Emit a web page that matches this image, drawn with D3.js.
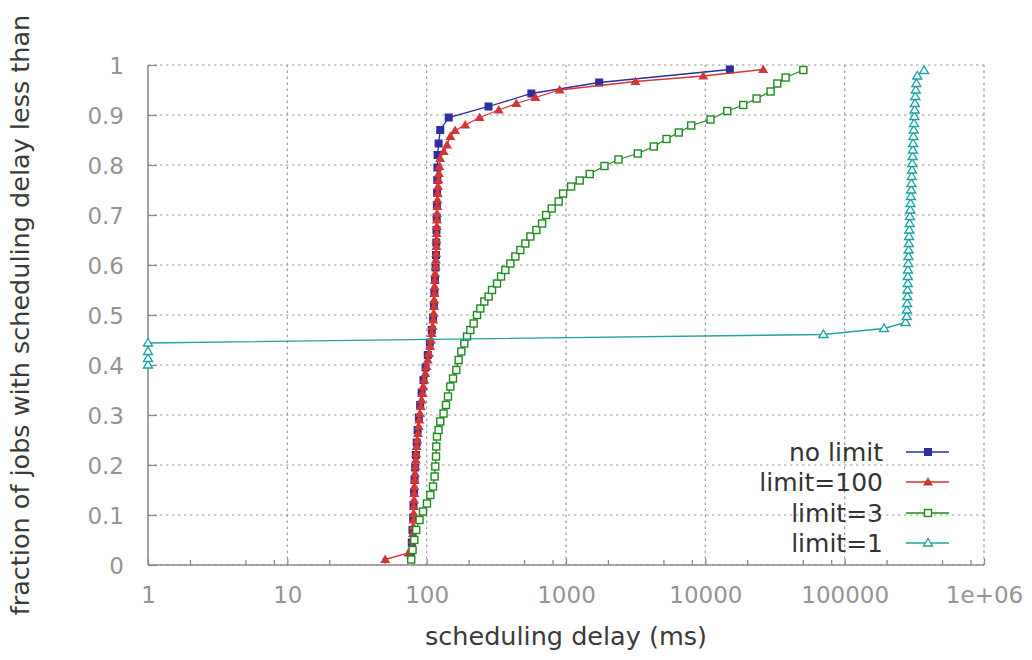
<!DOCTYPE html>
<html><head><meta charset="utf-8">
<script src="https://cdn.jsdelivr.net/npm/d3@7"></script>
<style>body{margin:0;background:#fff} svg{display:block} text{font-family:"DejaVu Sans",sans-serif}</style>
</head><body><svg id="c" width="1032" height="660"></svg>
<script>
// ---- axis ticks ----
const xTickValues = [1, 10, 100, 1000, 10000, 100000, 1000000];
const xTickLabels = ["1", "10", "100", "1000", "10000", "100000", "1e+06"];
const xMinorTickValues = [2, 5, 8, 20, 50, 80, 200, 500, 800, 2000, 5000, 8000, 20000, 50000, 80000, 200000, 500000, 800000];
const yTickValues = [0, 0.1, 0.2, 0.3, 0.4, 0.5, 0.6, 0.7, 0.8, 0.9, 1];
const yTickLabels = ["0", "0.1", "0.2", "0.3", "0.4", "0.5", "0.6", "0.7", "0.8", "0.9", "1"];

// ---- series names ----
const seriesNames = ["no limit", "limit=100", "limit=3", "limit=1"];

// ---- no limit ----
const noLimitDelay = [76.9, 78.2, 79.1, 79.9, 80.5, 81.2, 81.9, 82.7, 83.6, 84.8, 86.1, 87.9, 89.8, 92.0, 94.8, 98.2, 101.8, 105.4, 108.8, 111.2, 112.7, 113.6, 114.7, 115.9, 116.7, 117.2, 117.6, 118.0, 118.4, 118.8, 119.2, 119.4, 119.8, 121.8, 125.2, 144, 278, 564, 1730, 15000];
const noLimitFrac = [0.020, 0.045, 0.070, 0.095, 0.120, 0.145, 0.170, 0.195, 0.220, 0.245, 0.270, 0.295, 0.320, 0.345, 0.370, 0.395, 0.420, 0.445, 0.470, 0.495, 0.520, 0.545, 0.570, 0.595, 0.620, 0.645, 0.670, 0.695, 0.720, 0.745, 0.770, 0.795, 0.820, 0.843, 0.870, 0.895, 0.917, 0.943, 0.965, 0.991];

// ---- limit=100 ----
const limit100Delay = [50.4, 74.0, 78.9, 79.3, 79.7, 80.1, 80.4, 80.7, 80.9, 81.2, 81.5, 81.7, 82.1, 82.5, 83.1, 83.6, 84.2, 84.8, 85.6, 86.6, 87.6, 88.6, 89.5, 90.7, 91.9, 93.1, 94.5, 96.1, 97.9, 99.8, 101.8, 103.9, 105.8, 107.4, 108.8, 110.3, 111.5, 112.3, 112.8, 113.2, 113.6, 114.0, 114.5, 115.1, 115.9, 116.4, 117.0, 117.4, 117.6, 117.8, 118.2, 118.4, 118.8, 119.2, 119.6, 120.2, 120.8, 121.6, 122.4, 123.4, 125, 132.5, 140, 148, 160, 189, 240, 329, 440, 603, 901, 3150, 9660, 26000];
const limit100Frac = [0.011, 0.024, 0.037, 0.050, 0.063, 0.077, 0.090, 0.103, 0.117, 0.130, 0.143, 0.157, 0.170, 0.183, 0.197, 0.210, 0.223, 0.237, 0.250, 0.263, 0.277, 0.290, 0.303, 0.317, 0.330, 0.343, 0.357, 0.370, 0.383, 0.397, 0.410, 0.423, 0.437, 0.450, 0.463, 0.477, 0.490, 0.503, 0.517, 0.530, 0.543, 0.557, 0.570, 0.583, 0.597, 0.610, 0.623, 0.637, 0.650, 0.663, 0.677, 0.690, 0.703, 0.717, 0.730, 0.743, 0.757, 0.770, 0.783, 0.797, 0.813, 0.827, 0.840, 0.857, 0.869, 0.880, 0.895, 0.910, 0.923, 0.935, 0.950, 0.967, 0.978, 0.991];

// ---- limit=3 ----
const limit3Delay = [77.5, 79.2, 81.5, 84.2, 88.9, 94.1, 100.5, 106.2, 111.0, 114.0, 115.3, 116.7, 117.2, 118.6, 121.8, 125.2, 132.2, 137.6, 142.2, 147.8, 154.5, 163.2, 169.5, 177.3, 186.3, 194.8, 205.7, 217.3, 229.8, 242.7, 259.3, 278.4, 294.5, 319.9, 341.9, 367.0, 398.6, 433.0, 470.4, 510.9, 555.1, 612.9, 673.5, 719.5, 789.4, 886.3, 953.3, 1088, 1254, 1480, 1888, 2379, 3275, 4266, 5263, 6449, 7918, 10900, 14370, 18720, 23330, 29400, 32850, 37690, 50500];
const limit3Frac = [0.011, 0.030, 0.050, 0.070, 0.090, 0.107, 0.123, 0.140, 0.157, 0.177, 0.197, 0.217, 0.237, 0.257, 0.270, 0.287, 0.303, 0.320, 0.337, 0.357, 0.373, 0.390, 0.410, 0.427, 0.443, 0.457, 0.470, 0.483, 0.500, 0.513, 0.527, 0.537, 0.550, 0.563, 0.577, 0.590, 0.603, 0.617, 0.630, 0.643, 0.657, 0.670, 0.683, 0.700, 0.713, 0.727, 0.743, 0.757, 0.769, 0.782, 0.798, 0.811, 0.823, 0.837, 0.852, 0.865, 0.879, 0.891, 0.908, 0.920, 0.933, 0.947, 0.963, 0.975, 0.990];

// ---- limit=1 ----
const limit1Delay = [1, 1, 1, 1, 70300, 191600, 273500, 278900, 279800, 280700, 281700, 282600, 283500, 284000, 284900, 285900, 286800, 287800, 288700, 289700, 291100, 292600, 294000, 295500, 297000, 298500, 299900, 301400, 302900, 304400, 305900, 307400, 309000, 310000, 311500, 313100, 314600, 316200, 317800, 319400, 321500, 323700, 326900, 332000, 371500];
const limit1Frac = [0.400, 0.413, 0.427, 0.444, 0.461, 0.473, 0.485, 0.497, 0.510, 0.523, 0.537, 0.550, 0.563, 0.577, 0.590, 0.603, 0.617, 0.630, 0.643, 0.657, 0.670, 0.683, 0.697, 0.710, 0.723, 0.737, 0.750, 0.763, 0.777, 0.790, 0.803, 0.817, 0.830, 0.843, 0.857, 0.870, 0.883, 0.897, 0.910, 0.923, 0.937, 0.950, 0.963, 0.978, 0.989];

const seriesDelays = [noLimitDelay, limit100Delay, limit3Delay, limit1Delay];
const seriesFracs = [noLimitFrac, limit100Frac, limit3Frac, limit1Frac];
const seriesColors = ["#2e2e9e", "#d33636", "#1f8a1f", "#20a3a3"];
const seriesMarkers = ["squareFilled", "triangleFilled", "squareOpen", "triangleOpen"];

// ---- layout ----
const svg = d3.select("#c");
const L = 148, R = 984, T = 65, B = 565;
const x = d3.scaleLog().domain([1, 1000000]).range([L, R]);
const y = d3.scaleLinear().domain([0, 1]).range([B, T]);
const tickColor = "#8c8c8c";
const gridColor = "#9a9a9a";

// grid
const grid = svg.append("g");
grid.selectAll("line.gy").data(yTickValues).join("line")
  .attr("x1", L).attr("x2", R).attr("y1", d => y(d)).attr("y2", d => y(d))
  .attr("stroke", gridColor).attr("stroke-width", 1.2).attr("stroke-dasharray", "2.5,3.5");
grid.selectAll("line.gx").data(xTickValues.slice(1)).join("line")
  .attr("x1", d => x(d)).attr("x2", d => x(d)).attr("y1", B).attr("y2", T)
  .attr("stroke", gridColor).attr("stroke-width", 1.2).attr("stroke-dasharray", "2.5,3.5");

// axes with d3 axis generators
const fontTick = 23;
const xAxis = d3.axisBottom(x).tickValues(xTickValues).tickFormat((d, i) => xTickLabels[i]).tickSize(-6).tickPadding(22);
const gx = svg.append("g").attr("transform", `translate(0,${B})`).call(xAxis);
const xMinor = d3.axisBottom(x).tickValues(xMinorTickValues).tickFormat("").tickSize(-5);
const gxm = svg.append("g").attr("transform", `translate(0,${B})`).call(xMinor);
gxm.select(".domain").remove();
const yAxis = d3.axisLeft(y).tickValues(yTickValues).tickFormat((d, i) => yTickLabels[i]).tickSize(-9).tickPadding(24);
const gy = svg.append("g").attr("transform", `translate(${L},0)`).call(yAxis);
[gx, gxm, gy].forEach(g => {
  g.selectAll(".domain").attr("stroke", tickColor).attr("stroke-width", 1.6);
  g.selectAll(".tick line").attr("stroke", tickColor).attr("stroke-width", 1.3);
  g.selectAll(".tick text").attr("fill", "#949494").style("font-size", fontTick + "px").attr("font-family", "DejaVu Sans");
});
gx.selectAll(".tick text").attr("dy", "0.71em");
gy.selectAll(".tick text").attr("dy", "0.35em");
gx.select(".domain").attr("d", `M${L},0H${R}`);
gy.select(".domain").attr("d", `M0,${B}V${T}`);

// series
const line = d3.line().x(d => x(d[0])).y(d => y(d[1]));
function marker(g, kind, color, cx, cy) {
  if (kind === "squareFilled") {
    g.append("rect").attr("x", cx - 4).attr("y", cy - 4).attr("width", 8).attr("height", 8).attr("fill", color);
  } else if (kind === "squareOpen") {
    g.append("rect").attr("x", cx - 3.5).attr("y", cy - 3.5).attr("width", 7).attr("height", 7)
      .attr("fill", "#fff").attr("stroke", color).attr("stroke-width", 1.4);
  } else if (kind === "triangleFilled") {
    g.append("path").attr("d", `M${cx},${cy - 5}L${cx + 5},${cy + 3.5}L${cx - 5},${cy + 3.5}Z`).attr("fill", color);
  } else {
    g.append("path").attr("d", `M${cx},${cy - 4.5}L${cx + 4.5},${cy + 3}L${cx - 4.5},${cy + 3}Z`)
      .attr("fill", "#fff").attr("stroke", color).attr("stroke-width", 1.4);
  }
}
seriesNames.forEach((name, i) => {
  const pts = seriesDelays[i].map((d, k) => [d, seriesFracs[i][k]]);
  const g = svg.append("g");
  g.append("path").datum(pts).attr("d", line).attr("fill", "none")
    .attr("stroke", seriesColors[i]).attr("stroke-width", 1.3);
  pts.forEach(p => marker(g, seriesMarkers[i], seriesColors[i], x(p[0]), y(p[1])));
});

// legend
const legendRowY = [452, 482, 513, 543];
const leg = svg.append("g");
seriesNames.forEach((name, i) => {
  const ry = legendRowY[i];
  leg.append("text").attr("x", 883).attr("y", ry).attr("dy", "0.35em").attr("text-anchor", "end")
    .attr("fill", "#333").style("font-size", "25px").text(name);
  leg.append("line").attr("x1", 906).attr("x2", 949).attr("y1", ry).attr("y2", ry)
    .attr("stroke", seriesColors[i]).attr("stroke-width", 1.6);
  marker(leg, seriesMarkers[i], seriesColors[i], 928, ry);
});

// axis titles
svg.append("text").attr("x", 566).attr("y", 645).attr("text-anchor", "middle")
  .attr("fill", "#3a3a3a").style("font-size", "25.5px").text("scheduling delay (ms)");
svg.append("text").attr("transform", "translate(29,315) rotate(-90)").attr("text-anchor", "middle")
  .attr("fill", "#3a3a3a").style("font-size", "25.5px").text("fraction of jobs with scheduling delay less than");
</script></body></html>
